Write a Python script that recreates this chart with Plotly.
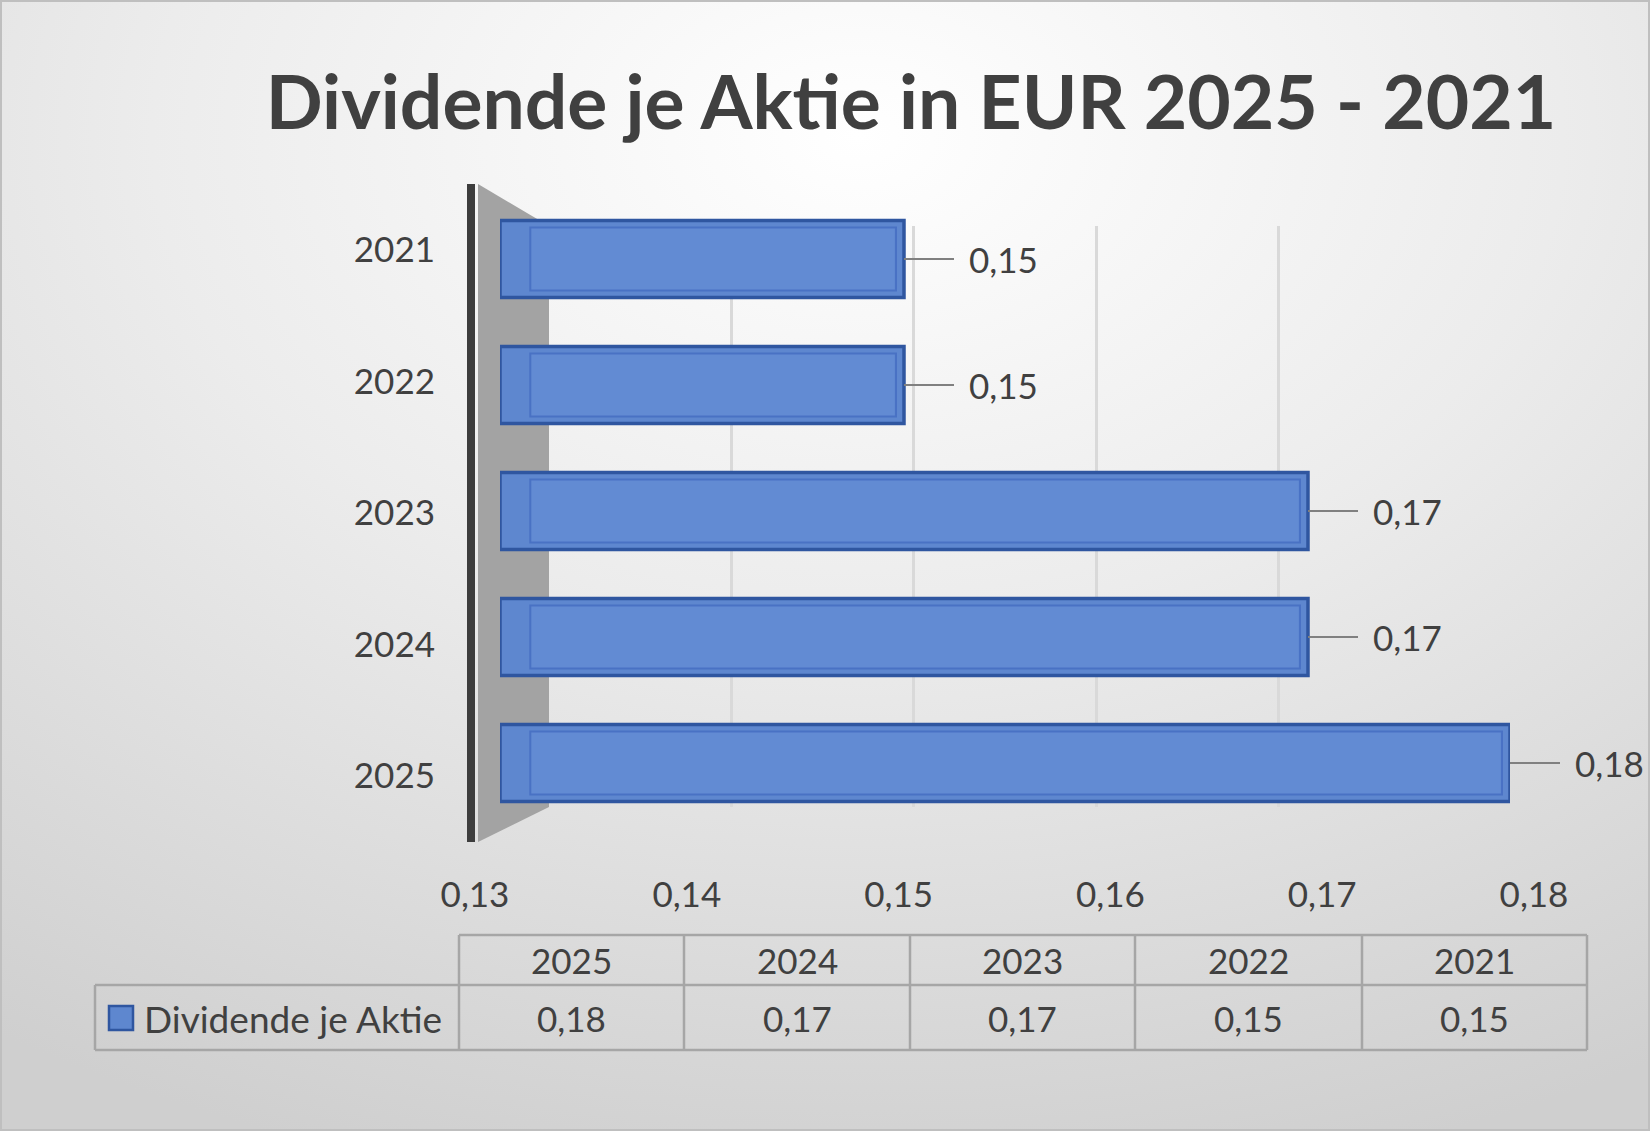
import base64
import plotly.graph_objects as go

# ---------------- data ----------------
years = ["2025", "2024", "2023", "2022", "2021"]
dividends = [0.18, 0.17, 0.17, 0.15, 0.15]
series_name = "Dividende je Aktie"
title_text = "Dividende je Aktie in EUR 2025 - 2021"
x_ticks = [0.13, 0.14, 0.15, 0.16, 0.17, 0.18]
X_MIN, X_MAX = 0.13, 0.18

W, H = 1650, 1131
FONT = "Lato"
TXT = "#404040"
BAR_FILL = "#5e87cf"
BAR_LINE = "#2f56a0"


def fmt(v):
    return f"{v:.2f}".replace(".", ",")


def px(x):
    return x / W


def py(y):
    return 1 - y / H


# ------------- background gradient (SVG) -------------
svg = (
    '<svg xmlns="http://www.w3.org/2000/svg" width="1650" height="1131" '
    'viewBox="0 0 1650 1131" preserveAspectRatio="none">'
    '<defs><radialGradient id="g" cx="0.52" cy="0.12" r="0.95" fx="0.52" fy="0.12">'
    '<stop offset="0" stop-color="#ffffff"/>'
    '<stop offset="0.45" stop-color="#ececec"/>'
    '<stop offset="1" stop-color="#cfcfcf"/>'
    '</radialGradient></defs>'
    '<rect width="1650" height="1131" fill="url(#g)"/></svg>'
)
bg_src = "data:image/svg+xml;base64," + base64.b64encode(svg.encode()).decode()

fig = go.Figure()

# invisible traces carrying the back wall (x/y) and the front frame (x2/y2)
for xa, ya in (("x", "y"), ("x2", "y2")):
    fig.add_trace(go.Bar(
        y=years, x=dividends, orientation="h", xaxis=xa, yaxis=ya,
        marker=dict(color="rgba(0,0,0,0)", line=dict(width=0)),
        showlegend=False, hoverinfo="skip",
    ))

# main bars (front faces) on x3/y3 so they are drawn above the back-wall grid
fig.add_trace(go.Bar(
    y=years,
    x=[v - X_MIN for v in dividends],
    base=X_MIN,
    width=0.61,
    orientation="h",
    xaxis="x3", yaxis="y3",
    marker=dict(color=BAR_FILL, line=dict(color=BAR_LINE, width=3.5)),
    name=series_name,
    showlegend=False,
    hoverinfo="skip",
))
# inner outline to suggest the transparent 3D box
INSET_L, INSET_R = 0.0015, 0.0004
fig.add_trace(go.Bar(
    y=years,
    x=[v - X_MIN - INSET_L - INSET_R for v in dividends],
    base=X_MIN + INSET_L,
    width=0.5,
    orientation="h",
    xaxis="x3", yaxis="y3",
    marker=dict(color="rgba(110,150,225,0.25)", line=dict(color="rgba(55,95,185,0.55)", width=2)),
    showlegend=False,
    hoverinfo="skip",
))

shapes = []
annotations = []

# side wall (3D look)
shapes.append(dict(
    type="path", xref="paper", yref="paper",
    path=(f"M {px(478)},{py(184)} L {px(549)},{py(226)} "
          f"L {px(549)},{py(807)} L {px(478)},{py(842)} Z"),
    fillcolor="#a3a3a3", line=dict(width=0), layer="below",
))

# data labels with leader lines (category axis -> use category index)
for i, v in enumerate(dividends):
    annotations.append(dict(
        x=v, y=i, xref="x3", yref="y3",
        text=fmt(v), showarrow=True, arrowhead=0, arrowwidth=2,
        arrowcolor="#808080", ax=50, ay=0, xanchor="left", borderpad=14,
        font=dict(family=FONT, size=35, color=TXT), standoff=0,
    ))

# ---------------- data table ----------------
col_x = [459, 684, 910, 1135, 1362, 1587]
y_top, y_mid, y_bot = 935, 985, 1050
legend_left = 95
LC = "#a6a6a6"

def hline(x0, x1, y):
    shapes.append(dict(type="line", xref="paper", yref="paper",
                       x0=px(x0), x1=px(x1), y0=py(y), y1=py(y),
                       line=dict(color=LC, width=2.5)))

def vline(x, y0, y1):
    shapes.append(dict(type="line", xref="paper", yref="paper",
                       x0=px(x), x1=px(x), y0=py(y0), y1=py(y1),
                       line=dict(color=LC, width=2.5)))

hline(col_x[0], col_x[-1], y_top)
hline(legend_left, col_x[-1], y_mid)
hline(legend_left, col_x[-1], y_bot)
for cx in col_x:
    vline(cx, y_top, y_bot)
vline(legend_left, y_mid, y_bot)

for i, (yr, v) in enumerate(zip(years, dividends)):
    cxm = (col_x[i] + col_x[i + 1]) / 2
    annotations.append(dict(x=px(cxm), y=py((y_top + y_mid) / 2), xref="paper", yref="paper",
                            text=yr, showarrow=False, xanchor="center", yanchor="middle",
                            font=dict(family=FONT, size=35, color=TXT)))
    annotations.append(dict(x=px(cxm), y=py((y_mid + y_bot) / 2), xref="paper", yref="paper",
                            text=fmt(v), showarrow=False, xanchor="center", yanchor="middle",
                            font=dict(family=FONT, size=35, color=TXT)))

# legend key in table
shapes.append(dict(type="rect", xref="paper", yref="paper",
                   x0=px(109), x1=px(133), y0=py(1006), y1=py(1030),
                   fillcolor=BAR_FILL, line=dict(color=BAR_LINE, width=2.5)))
annotations.append(dict(x=px(142), y=py(1018), xref="paper", yref="paper",
                        text=series_name, showarrow=False, xanchor="left", yanchor="middle",
                        font=dict(family=FONT, size=37, color=TXT)))

# outer border
shapes.append(dict(type="rect", xref="paper", yref="paper",
                   x0=0, x1=1, y0=0, y1=1,
                   line=dict(color="#bfbfbf", width=4)))

hidden_axis = dict(showgrid=False, zeroline=False, showline=False, ticks="",
                   showticklabels=False, automargin=False)
tickfont = dict(family=FONT, size=35, color=TXT)
cat_axis = dict(type="category", range=[-0.5, len(years) - 0.5],
                categoryorder="array", categoryarray=years)

fig.update_layout(
    width=W, height=H,
    margin=dict(l=0, r=0, t=0, b=0, pad=0, autoexpand=False),
    paper_bgcolor="#e6e6e6",
    plot_bgcolor="rgba(0,0,0,0)",
    separators=",.",
    barmode="overlay",
    title=dict(text=title_text, x=px(911), y=py(103), xanchor="center", yanchor="middle",
               xref="paper", yref="paper", automargin=False,
               font=dict(family=FONT, size=75, color=TXT, weight="bold")),
    # back wall with gridlines
    xaxis=dict(domain=[px(549), px(1461)], range=[X_MIN, X_MAX], anchor="y",
               tickvals=x_ticks, showgrid=True, gridcolor="#d9d9d9", gridwidth=2.5,
               zeroline=False, showline=False, ticks="", showticklabels=False,
               automargin=False),
    yaxis=dict(hidden_axis, **cat_axis, domain=[py(807), py(226)], anchor="x"),
    # front frame: category labels, value labels and the dark left axis line
    xaxis2=dict(domain=[px(475), px(1534)], range=[X_MIN, X_MAX], anchor="y2",
                tickvals=x_ticks, tickformat=".2f", showgrid=False, zeroline=False,
                showline=False, ticks="", tickfont=tickfont, ticklabelstandoff=29,
                automargin=False),
    yaxis2=dict(**cat_axis, domain=[py(842), py(184)], anchor="x2",
                showgrid=False, zeroline=False, showline=True, linecolor="#3d3d3d",
                linewidth=8, ticks="", tickfont=tickfont, ticklabelstandoff=25,
                automargin=False),
    # bars
    xaxis3=dict(hidden_axis, domain=[px(500), px(1510)], range=[X_MIN, X_MAX], anchor="y3"),
    yaxis3=dict(hidden_axis, **cat_axis, domain=[py(826), py(196)], anchor="x3"),
    images=[dict(source=bg_src, xref="paper", yref="paper", x=0, y=1,
                 sizex=1, sizey=1, sizing="stretch", layer="below")],
    shapes=shapes,
    annotations=annotations,
)

fig.write_html("out.html")
